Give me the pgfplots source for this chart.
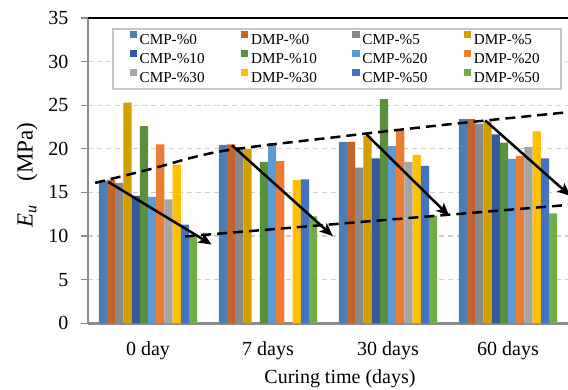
\documentclass[border=0pt]{standalone}
\usepackage{fontspec}
\setmainfont{Liberation Serif}
\usepackage{pgfplots}
\pgfplotsset{compat=1.18}
\usetikzlibrary{arrows.meta}

\definecolor{cA}{HTML}{4A7EB5}
\definecolor{cB}{HTML}{C5632B}
\definecolor{cC}{HTML}{898989}
\definecolor{cD}{HTML}{D29F00}
\definecolor{cE}{HTML}{345BA0}
\definecolor{cF}{HTML}{5A8F3B}
\definecolor{cG}{HTML}{5B9BD5}
\definecolor{cH}{HTML}{ED7D31}
\definecolor{cI}{HTML}{A5A5A5}
\definecolor{cJ}{HTML}{FFC000}
\definecolor{cK}{HTML}{4472C4}
\definecolor{cL}{HTML}{70AD47}
\definecolor{axisgray}{HTML}{8C8C8C}
\definecolor{gridgray}{HTML}{D0D0D0}

\pgfplotsset{
  bars/.style={ybar, bar width=8.2pt, bar shift=#1, draw=none},
  trend/.style={black, line width=2.5pt, dash pattern=on 10pt off 6pt, forget plot},
  push/.style={black, line width=2.5pt, -{Stealth[length=13pt, width=11pt, inset=3pt]}, forget plot},
}

\begin{document}
\begin{tikzpicture}
\useasboundingbox (0,0) rectangle (568pt,390pt);
\begin{axis}[
  at={(88pt,66.7pt)}, anchor=south west,
  scale only axis, width=480pt, height=305.3pt,
  xmin=-0.5, xmax=3.5, ymin=0, ymax=35,
  enlargelimits=false,
  axis lines=left,
  axis line style={-, draw=axisgray, line width=2.5pt},
  xtick={0,1,2,3},
  xticklabels={0 day,7 days,30 days,60 days},
  ytick={0,5,...,35},
  tick align=outside,
  major tick length=7pt,
  xtick style={draw=none},
  ytick style={draw=axisgray, line width=1.2pt},
  ymajorgrids,
  major grid style={draw=gridgray, dash pattern=on 5pt off 4pt, line width=1.2pt},
  /pgf/number format/assume math mode=true,
  tick label style={font=\fontsize{20}{24}\selectfont},
  xticklabel style={anchor=base, yshift=-25pt},
  yticklabel style={anchor=east, xshift=-9pt},
  label style={font=\fontsize{20}{24}\selectfont},
  xlabel={Curing time (days)},
  xlabel style={at={(axis description cs:0.525,-0.1965)}, anchor=base},
  ylabel={\textit{E\textsubscript{u}}\quad(MPa)},
  ylabel style={at={(axis description cs:-0.127,0.486)}, anchor=center, font=\fontsize{23}{27}\selectfont},
  legend columns=4,
  legend cell align=left,
  legend image code/.code={\fill[#1] (0pt,1.7pt) rectangle (7.3pt,9pt);},
  legend style={
    at={(0.0506,0.966)}, anchor=north west,
    draw=gray!45, line width=1.5pt, fill=white,
    inner xsep=16.6pt, inner ysep=1.5pt,
    font=\fontsize{15.2}{18}\selectfont,
    nodes={text width=68pt, text height=11.5pt, text depth=3.5pt, inner xsep=2.7pt, inner ysep=2pt, align=left},
    /tikz/every odd column/.append style={column sep=0pt},
    /tikz/every even column/.append style={column sep=30.7pt},
  },
]
\addplot[bars=-45.1pt, fill=cA] coordinates {(0,16.35) (1,20.45) (2,20.8) (3,23.4)};
\addlegendentry{\mbox{CMP-\%0}}
\addplot[bars=-36.9pt, fill=cB] coordinates {(0,16.45) (1,20.5) (2,20.8) (3,23.4)};
\addlegendentry{\mbox{DMP-\%0}}
\addplot[bars=-28.7pt, fill=cC] coordinates {(0,16.1) (1,20.2) (2,17.85) (3,22.9)};
\addlegendentry{\mbox{CMP-\%5}}
\addplot[bars=-20.5pt, fill=cD] coordinates {(0,25.3) (1,20.0) (2,21.5) (3,23.15)};
\addlegendentry{\mbox{DMP-\%5}}
\addplot[bars=-12.3pt, fill=cE] coordinates {(0,14.6) (2,18.9) (3,21.65)};
\addlegendentry{\mbox{CMP-\%10}}
\addplot[bars=-4.1pt, fill=cF] coordinates {(0,22.6) (1,18.5) (2,25.7) (3,20.7)};
\addlegendentry{\mbox{DMP-\%10}}
\addplot[bars=4.1pt, fill=cG] coordinates {(0,14.5) (1,20.65) (2,20.3) (3,18.85)};
\addlegendentry{\mbox{CMP-\%20}}
\addplot[bars=12.3pt, fill=cH] coordinates {(0,20.5) (1,18.6) (2,22.1) (3,19.2)};
\addlegendentry{\mbox{DMP-\%20}}
\addplot[bars=20.5pt, fill=cI] coordinates {(0,14.2) (2,18.5) (3,20.2)};
\addlegendentry{\mbox{CMP-\%30}}
\addplot[bars=28.7pt, fill=cJ] coordinates {(0,18.2) (1,16.4) (2,19.3) (3,22.0)};
\addlegendentry{\mbox{DMP-\%30}}
\addplot[bars=36.9pt, fill=cK] coordinates {(0,11.3) (1,16.5) (2,18.05) (3,18.9)};
\addlegendentry{\mbox{CMP-\%50}}
\addplot[bars=45.1pt, fill=cL] coordinates {(0,9.9) (1,12.25) (2,12.35) (3,12.6)};
\addlegendentry{\mbox{DMP-\%50}}

% upper and lower trend envelopes
\addplot[trend, smooth] coordinates {(-0.44,16.1) (0,17.6) (0.6,19.7) (1.6,21.4) (2.5,22.8) (3.5,24.2)};
\addplot[trend] coordinates {(0.31,9.96) (3.5,13.57)};
% drop within each curing period
\addplot[push] coordinates {(-0.33,16.2) (0.53,9.03)};
\addplot[push] coordinates {(0.70,20.4) (1.54,10.0)};
\addplot[push] coordinates {(1.81,21.8) (2.51,12.3)};
\addplot[push] coordinates {(2.81,23.26) (3.52,14.6)};
\end{axis}
\draw[black, line width=2pt] (current axis.north west) -- (current axis.north east);
\end{tikzpicture}
\end{document}
